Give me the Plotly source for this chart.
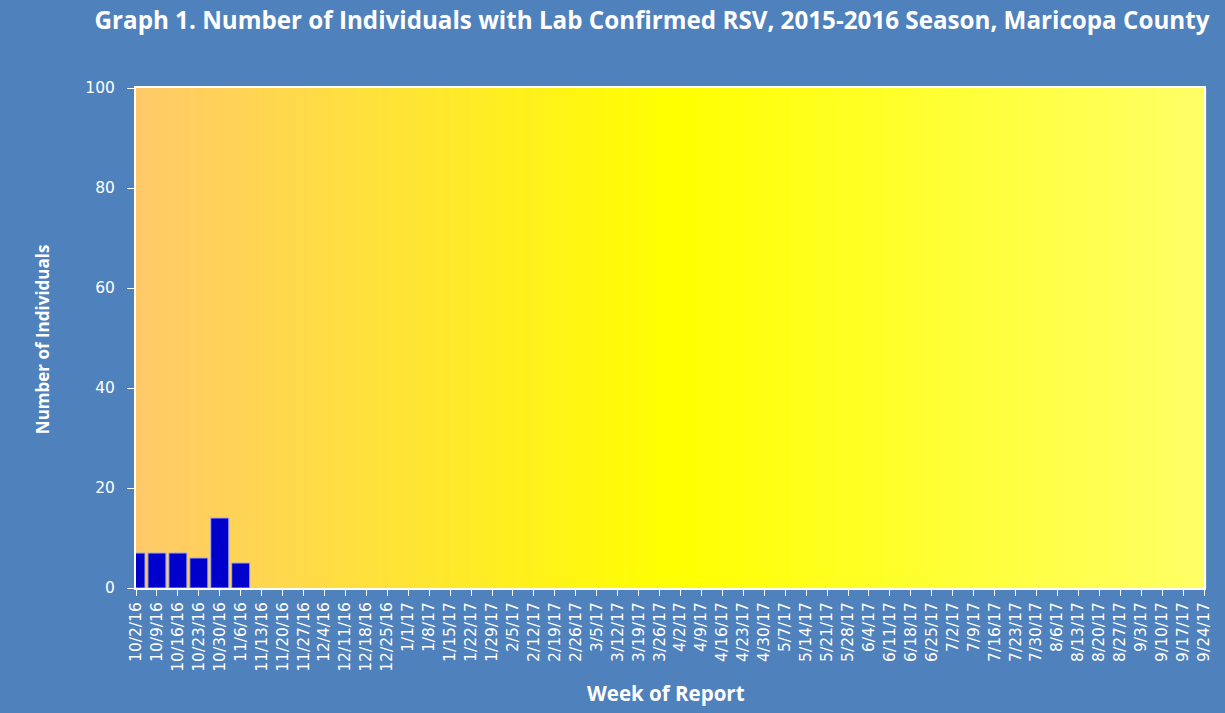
import plotly.graph_objects as go

weeks = ["10/2/16", "10/9/16", "10/16/16", "10/23/16", "10/30/16", "11/6/16", "11/13/16",
         "11/20/16", "11/27/16", "12/4/16", "12/11/16", "12/18/16", "12/25/16", "1/1/17",
         "1/8/17", "1/15/17", "1/22/17", "1/29/17", "2/5/17", "2/12/17", "2/19/17", "2/26/17",
         "3/5/17", "3/12/17", "3/19/17", "3/26/17", "4/2/17", "4/9/17", "4/16/17", "4/23/17",
         "4/30/17", "5/7/17", "5/14/17", "5/21/17", "5/28/17", "6/4/17", "6/11/17", "6/18/17",
         "6/25/17", "7/2/17", "7/9/17", "7/16/17", "7/23/17", "7/30/17", "8/6/17", "8/13/17",
         "8/20/17", "8/27/17", "9/3/17", "9/10/17", "9/17/17", "9/24/17"]
cases = [7, 7, 7, 6, 14, 5] + [None] * (len(weeks) - 6)
y_ticks = [0, 20, 40, 60, 80, 100]

W, H = 1225, 713
L, R, T, B = 136, 19, 88, 125
PW, PH = W - L - R, H - T - B
BLUE = "#4F81BD"

def px_x(px):
    return (px - L) / PW

def px_y(py):
    return (H - B - py) / PH

fig = go.Figure()
fig.add_trace(go.Bar(
    x=list(range(len(weeks))), y=cases,
    marker=dict(color="#0000CC", line=dict(color="#A0A8F0", width=1)),
    width=0.86,
))

# horizontal gradient background of the plot area
stops = [(0.0, (255, 201, 106)), (0.5, (255, 255, 0)), (1.0, (255, 255, 102))]
def col(t):
    for (t0, c0), (t1, c1) in zip(stops[:-1], stops[1:]):
        if t0 <= t <= t1:
            f = (t - t0) / (t1 - t0)
            return "rgb(%d,%d,%d)" % tuple(round(a + (b - a) * f) for a, b in zip(c0, c1))
    return "rgb(255,255,102)"

n = 160
shapes = []
for i in range(n):
    shapes.append(dict(type="rect", xref="x domain", yref="y domain",
                       x0=i / n, x1=(i + 1) / n + 0.002, y0=0, y1=1,
                       fillcolor=col((i + 0.5) / n), line=dict(width=0), layer="below"))

fig.update_layout(
    width=W, height=H,
    margin=dict(l=L, r=R, t=T, b=B),
    paper_bgcolor=BLUE, plot_bgcolor="#FFE060",
    shapes=shapes,
    showlegend=False,
    title=dict(text="<b>Graph 1. Number of Individuals with Lab Confirmed RSV, 2015-2016 Season, Maricopa County</b>",
               font=dict(family="Open Sans", size=24.2, color="white"),
               x=652 / W, xanchor="center", xref="container",
               y=1 - 21 / H, yanchor="middle", yref="container"),
    xaxis=dict(
        tickmode="array", tickvals=list(range(len(weeks))), ticktext=weeks,
        range=[0, len(weeks) - 1], tickangle=-90,
        tickfont=dict(family="DejaVu Sans", size=15.5, color="white"),
        ticks="outside", ticklen=6, tickcolor="white", tickwidth=1,
        showline=True, linecolor="white", linewidth=2, mirror=True,
        showgrid=False, zeroline=False,
    ),
    yaxis=dict(
        range=[0, 100], tickvals=y_ticks,
        tickfont=dict(family="DejaVu Sans", size=15.5, color="white"),
        ticks="outside", ticklen=7, tickcolor="white", tickwidth=1,
        ticklabelstandoff=9,
        showline=True, linecolor="white", linewidth=2, mirror=True,
        showgrid=False, zeroline=False,
    ),
    annotations=[
        dict(text="<b>Number of Individuals</b>", textangle=-90,
             x=px_x(42), y=px_y(339), xref="paper", yref="paper",
             xanchor="center", yanchor="middle", showarrow=False,
             font=dict(family="Open Sans", size=17, color="white")),
        dict(text="<b>Week of Report</b>",
             x=px_x(667), y=px_y(693), xref="paper", yref="paper",
             xanchor="center", yanchor="middle", showarrow=False,
             font=dict(family="Open Sans", size=20.5, color="white")),
    ],
)

fig.write_html("out.html", config={"displayModeBar": False},
               post_script="document.body.style.margin='0';")
